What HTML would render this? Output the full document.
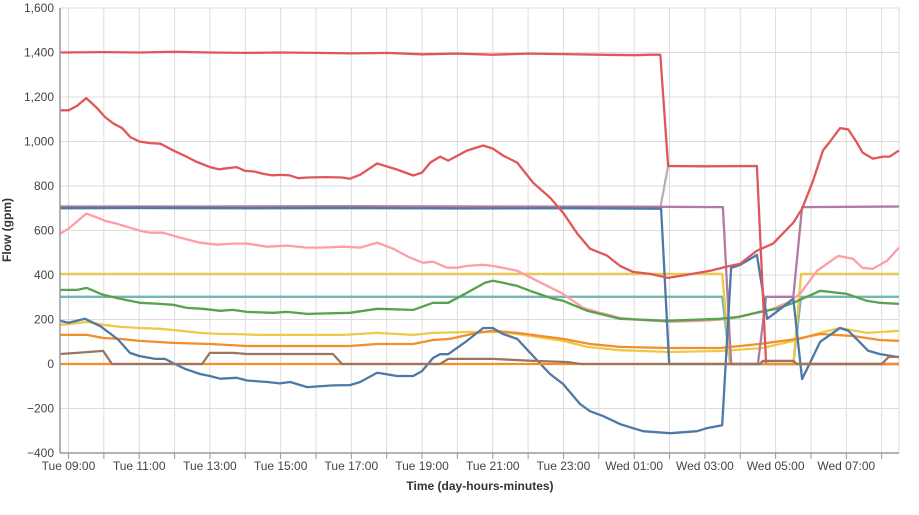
<!DOCTYPE html>
<html><head><meta charset="utf-8"><style>
html,body{margin:0;padding:0;background:#fff;width:919px;height:515px;overflow:hidden}
svg{display:block;font-family:"Liberation Sans",sans-serif}
</style></head><body>
<svg id="chart" width="919" height="515" xmlns="http://www.w3.org/2000/svg">
<g id="grid"></g>
<g id="series"></g>
<g id="axes"></g>
<text x="480" y="490" text-anchor="middle" font-size="12" font-weight="bold" fill="#333">Time (day-hours-minutes)</text>
<text transform="translate(11,230) rotate(-90)" text-anchor="middle" font-size="12" font-weight="bold" fill="#333">Flow (gpm)</text>
</svg>
<script>
// Time in hours after Tue 09:00
const yTicks = [-400,-200,0,200,400,600,800,1000,1200,1400,1600];
const yTickLabels = ["−400","−200","0","200","400","600","800","1,000","1,200","1,400","1,600"];
const xTickHours = [0,2,4,6,8,10,12,14,16,18,20,22];
const xTickLabels = ["Tue 09:00","Tue 11:00","Tue 13:00","Tue 15:00","Tue 17:00","Tue 19:00","Tue 21:00","Tue 23:00","Wed 01:00","Wed 03:00","Wed 05:00","Wed 07:00"];

const grayT = [-0.24,16.74,16.96,19.47];
const grayV = [700,700,890,890];
const tealT = [-0.24,18.49,18.71,20.5,20.72,23.49];
const tealV = [302,302,0,0,302,302];
const yellowTopT = [-0.24,18.49,18.71,20.5,20.72,23.49];
const yellowTopV = [405,405,0,0,405,405];
const pinkT = [-0.24,0,0.5,0.81,1.03,1.37,2.02,2.31,2.67,3.16,3.72,4.2,4.65,5.05,5.62,6.18,6.75,7.11,7.77,8.25,8.73,9.18,9.66,10.03,10.31,10.7,10.99,11.27,11.73,12.0,12.29,12.69,13.14,13.99,14.56,15.04,15.6,16.17,17.02,17.95,18.71,19.19,19.76,20.33,20.69,21.17,21.77,22.19,22.46,22.75,23.15,23.49];
const pinkV = [585,608,676,658,644,630,599,590,590,568,545,536,541,541,527,532,523,523,527,523,545,518,478,455,460,433,433,441,446,441,432,419,383,315,252,230,207,198,189,194,203,221,239,275,315,419,486,473,432,428,464,523];
const greenT = [-0.24,0.24,0.52,0.98,1.46,2.02,2.59,2.96,3.35,3.8,4.29,4.65,5.05,5.79,6.18,6.75,7.96,8.73,9.75,10.31,10.74,11.27,11.78,12.0,12.29,12.69,13.14,13.71,13.99,14.67,15.6,16.92,18.43,18.99,19.55,20.04,20.5,21.26,22.02,22.58,22.94,23.49];
const greenV = [333,333,342,311,293,275,270,266,252,248,239,243,234,230,234,225,230,248,243,275,275,320,365,374,365,351,324,293,284,239,203,194,203,212,234,248,275,329,315,284,275,270];
const yellowLowT = [-0.24,0.04,0.52,0.98,1.46,2.02,2.59,2.96,3.72,4.29,4.65,5.42,6.35,7.11,7.77,8.73,9.75,10.31,11.27,12.21,12.69,13.99,14.67,15.6,17.02,18.51,19.64,20.5,21.26,21.82,22.58,23.49];
const yellowLowV = [176,180,189,176,167,162,158,153,140,135,135,131,131,131,131,140,131,140,144,144,135,104,77,62,54,59,72,104,140,162,140,149];
const orangeT = [-0.24,0.52,0.98,1.46,2.02,2.96,4.0,5.05,6.35,7.96,8.73,9.75,10.31,10.79,11.55,12.0,12.69,13.99,14.75,15.6,17.02,18.43,19.55,20.61,21.26,22.19,22.94,23.49];
const orangeV = [131,131,117,113,104,95,90,81,81,81,90,90,108,113,140,149,140,113,90,77,72,72,90,113,135,126,108,104];
const blueLowT = [-0.24,0,0.47,0.9,1.2,1.4,1.74,2.0,2.45,2.73,3.01,3.3,3.72,4.0,4.29,4.75,5.05,5.62,5.98,6.27,6.75,7.48,7.96,8.25,8.73,9.29,9.75,10.0,10.31,10.51,10.74,11.27,11.73,12.0,12.29,12.69,13.14,13.62,13.99,14.47,14.75,15.12,15.6,16.25,17.02,17.78,18.06,18.49,18.74,18.99,19.47,19.76,19.99,20.5,20.75,21.26,21.82,22.05,22.37,22.61,22.94,23.49];
const blueLowV = [194,185,203,170,135,110,50,36,23,23,0,-22,-45,-54,-66,-62,-74,-81,-87,-81,-104,-96,-95,-81,-39,-54,-54,-32,27,44,44,104,162,162,135,113,36,-45,-90,-180,-212,-234,-270,-302,-311,-302,-288,-275,432,445,490,203,230,293,-68,100,162,150,100,60,45,30];
const purpleT = [-0.24,4,8,12,16,18.51,18.74,19.5,19.73,20.5,20.75,23.49];
const purpleV = [708,708,709,708,707,705,0,0,302,302,705,708];
const blueTopT = [-0.24,2,5,8,11,14,16.76,16.99,23.49];
const blueTopV = [700,702,700,701,699,700,698,0,0];
const redTopT = [-0.24,1,2,3,4,5,6,7,8,9,10,11,12,13,14,15,16,16.45,16.74,16.96,18,19.47,19.73,23.49];
const redTopV = [1400,1402,1400,1403,1400,1398,1400,1398,1396,1398,1392,1395,1390,1395,1393,1390,1388,1390,1390,890,888,890,0,0];
const redT = [-0.24,0,0.24,0.5,0.81,1.03,1.28,1.52,1.75,2.0,2.3,2.6,2.96,3.3,3.6,4.0,4.25,4.5,4.75,5.0,5.25,5.5,5.75,6.0,6.25,6.5,6.75,7.3,7.74,7.96,8.25,8.73,9.29,9.75,10.0,10.23,10.51,10.74,11.27,11.73,12.0,12.29,12.69,13.14,13.62,13.99,14.39,14.75,15.23,15.6,15.97,16.45,16.96,17.5,18.15,18.71,18.99,19.47,19.93,20.5,20.75,21.06,21.34,21.54,21.82,22.05,22.28,22.46,22.75,23.04,23.23,23.49];
const redV = [1140,1140,1160,1195,1150,1110,1080,1060,1020,1000,993,990,960,935,910,885,875,880,885,868,865,855,848,850,848,835,838,840,838,833,851,901,874,847,860,905,932,914,959,982,968,937,905,815,748,680,586,518,487,441,414,405,387,401,419,441,450,509,541,635,698,824,960,1000,1060,1055,1000,950,923,932,932,960];
const orangeZeroT = [-0.24,23.49];
const orangeZeroV = [0,0];
const brownT = [-0.24,0.24,0.98,1.23,3.78,4.0,4.65,5.05,7.48,7.74,10.51,10.74,12.0,13.14,14.1,14.5,19.55,19.64,20.5,20.6,23.0,23.2,23.49];
const brownV = [45,50,59,0,0,50,50,45,45,0,0,23,23,14,9,0,0,14,14,0,0,32,32];

const X0=60, X1=899, Y0=453, Y1=8, TMIN=-0.24, TMAX=23.49, VMIN=-400, VMAX=1600;
function xs(t){return X0+(t-TMIN)/(TMAX-TMIN)*(X1-X0);}
function ys(v){return Y0-(v-VMIN)/(VMAX-VMIN)*(Y0-Y1);}
const NS="http://www.w3.org/2000/svg";
function mk(tag,parent){const e=document.createElementNS(NS,tag);parent.appendChild(e);return e;}
const grid=document.getElementById('grid'), axes=document.getElementById('axes'), sg=document.getElementById('series');

yTicks.forEach((v,i)=>{
  const l=mk('line',grid);
  
  
  l.setAttribute('x1',X0);l.setAttribute('x2',X1);l.setAttribute('y1',ys(v));l.setAttribute('y2',ys(v));
  l.setAttribute('stroke','#dcdcdc');l.setAttribute('stroke-width','1');
  const t=mk('text',axes);
  
  
  t.setAttribute('x',X0-6);t.setAttribute('y',ys(v)+4);t.setAttribute('text-anchor','end');
  t.setAttribute('font-size','12');t.setAttribute('fill','#444');
  t.textContent=yTickLabels[i];
});
for(let h=0;h<=23;h++){
  const x=xs(h);
  const l=mk('line',grid);
  
  
  l.setAttribute('x1',x);l.setAttribute('x2',x);l.setAttribute('y1',Y1);l.setAttribute('y2',Y0);
  l.setAttribute('stroke','#dcdcdc');l.setAttribute('stroke-width','1');
  const tk=mk('line',axes);
  
  
  tk.setAttribute('x1',x);tk.setAttribute('x2',x);tk.setAttribute('y1',Y0);tk.setAttribute('y2',Y0+6);
  tk.setAttribute('stroke','#999');tk.setAttribute('stroke-width','1');
}
const rb=mk('line',grid);


rb.setAttribute('x1',X1);rb.setAttribute('x2',X1);rb.setAttribute('y1',Y1);rb.setAttribute('y2',Y0);
rb.setAttribute('stroke','#dcdcdc');
xTickHours.forEach((h,i)=>{
  const t=mk('text',axes);
  
  
  t.setAttribute('x',xs(h));t.setAttribute('y',Y0+17);t.setAttribute('text-anchor','middle');
  t.setAttribute('font-size','12');t.setAttribute('fill','#444');
  t.textContent=xTickLabels[i];
});
const ya=mk('line',axes);


ya.setAttribute('x1',X0);ya.setAttribute('x2',X0);ya.setAttribute('y1',Y1);ya.setAttribute('y2',Y0);
ya.setAttribute('stroke','#999');ya.setAttribute('stroke-width','1.5');
const xa=mk('line',axes);


xa.setAttribute('x1',X0);xa.setAttribute('x2',X1);xa.setAttribute('y1',Y0);xa.setAttribute('y2',Y0);
xa.setAttribute('stroke','#999');xa.setAttribute('stroke-width','1.5');

function drawSeries(name,T,V,color){
  const p=mk('path',sg);
  
  
  p.setAttribute('d',T.map((t,i)=>(i?'L':'M')+xs(t).toFixed(1)+','+ys(V[i]).toFixed(1)).join(''));
  p.setAttribute('fill','none');p.setAttribute('stroke',color);p.setAttribute('stroke-width','2.3');
  p.setAttribute('stroke-linejoin','round');
}
drawSeries('series-gray',grayT,grayV,'#bab0ac');
drawSeries('series-teal',tealT,tealV,'#76b7b2');
drawSeries('series-yellow-top',yellowTopT,yellowTopV,'#edc948');
drawSeries('series-pink',pinkT,pinkV,'#ff9da7');
drawSeries('series-green',greenT,greenV,'#59a14f');
drawSeries('series-yellow-low',yellowLowT,yellowLowV,'#edc948');
drawSeries('series-orange',orangeT,orangeV,'#f28e2b');
drawSeries('series-purple',purpleT,purpleV,'#b07aa1');
drawSeries('series-blue-top',blueTopT,blueTopV,'#4e79a7');
drawSeries('series-blue-low',blueLowT,blueLowV,'#4e79a7');
drawSeries('series-red-top',redTopT,redTopV,'#e15759');
drawSeries('series-red',redT,redV,'#e15759');
drawSeries('series-orange-zero',orangeZeroT,orangeZeroV,'#f28e2b');
drawSeries('series-brown',brownT,brownV,'#9c755f');
</script>
</body></html>
